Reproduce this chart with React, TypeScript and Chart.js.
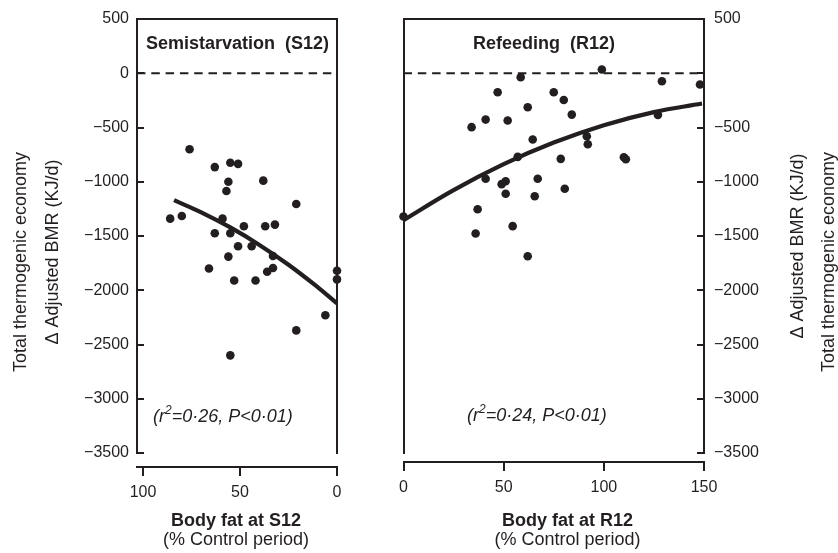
import React, { useEffect, useRef } from 'react';
import { Chart, registerables } from 'chart.js';

Chart.register(...registerables);

// ---- Data: Semistarvation (S12) ----
const S12_FAT = [76, 63, 55, 51, 56, 57, 38, 21, 86, 80, 59, 63, 55, 48, 37, 32, 51, 44, 56, 33, 33, 36, 66, 0, 53, 42, 0, 6, 21, 55];
const S12_BMR = [-700, -865, -825, -835, -1000, -1085, -990, -1205, -1340, -1315, -1340, -1475, -1475, -1410, -1410, -1395, -1595, -1595, -1690, -1685, -1795, -1830, -1800, -1820, -1910, -1910, -1900, -2230, -2370, -2600];
const S12_FIT_FAT = [84, 70, 55, 40, 25, 10, 0];
const S12_FIT_BMR = [-1170, -1282, -1421, -1582, -1765, -1971, -2121];

// ---- Data: Refeeding (R12) ----
const R12_FAT = [0, 34, 41, 47, 52, 58.5, 62, 64.5, 57, 75, 80, 84, 99, 91.5, 92, 78.5, 110, 111, 129, 148, 127, 41, 51, 49, 67, 51, 65.5, 80.5, 37, 36, 54.5, 62];
const R12_BMR = [-1320, -497, -427, -175, -436, -37, -313, -611, -771, -175, -246, -381, 34, -580, -654, -789, -774, -792, -74, -104, -384, -973, -995, -1022, -973, -1111, -1133, -1065, -1253, -1477, -1409, -1686];
const R12_FIT_FAT = [0, 25, 50, 75, 100, 125, 149];
const R12_FIT_BMR = [-1354, -1077, -838, -639, -479, -358, -279];

// ---- Axes ----
const Y_TICKS = [500, 0, -500, -1000, -1500, -2000, -2500, -3000, -3500];
const Y_MIN = -3500;
const Y_MAX = 500;
const X_TICKS_S12 = [100, 50, 0];
const X_TICKS_R12 = [0, 50, 100, 150];
const X_MAX_S12 = 103.1;
const X_MAX_R12 = 150;
const REFERENCE_BMR = 0;

const INK = '#231f20';
const FONT = "'Liberation Sans', Arial, Helvetica, sans-serif";

const fmtY = (v: number) => (v < 0 ? '\u2212' + Math.abs(v) : String(v));

type Seg = { text: string; font: string; dy?: number };
type TextItem = { text: string | Seg[]; x: number; y: number; font?: string; align?: CanvasTextAlign; rotate?: number };

function makeTextPlugin(items: TextItem[]) {
  return {
    id: 'panelText',
    afterDraw(chart: any) {
      const ctx: CanvasRenderingContext2D = chart.ctx;
      for (const t of items) {
        ctx.save();
        ctx.translate(t.x, t.y);
        if (t.rotate) ctx.rotate(t.rotate);
        ctx.fillStyle = INK;
        ctx.textBaseline = 'middle';
        if (typeof t.text === 'string') {
          ctx.font = t.font || `18px ${FONT}`;
          ctx.textAlign = t.align || 'left';
          ctx.fillText(t.text, 0, 0);
        } else {
          ctx.textAlign = 'left';
          let x = 0;
          for (const s of t.text) {
            ctx.font = s.font;
            ctx.fillText(s.text, x, s.dy || 0);
            x += ctx.measureText(s.text).width;
          }
        }
        ctx.restore();
      }
    },
  };
}

const stat = (r: string): Seg[] => [
  { text: '(r', font: `italic 18px ${FONT}` },
  { text: '2', font: `italic 12px ${FONT}`, dy: -6 },
  { text: `=${r}, P<0\u00b701)`, font: `italic 18px ${FONT}` },
];

function pts(xs: number[], ys: number[]) {
  return xs.map((x, i) => ({ x, y: ys[i] }));
}

function datasets(fx: number[], fy: number[], px: number[], py: number[], xLeft: number, xRight: number) {
  return [
    {
      type: 'scatter' as const,
      data: pts(fx, fy),
      showLine: true,
      borderColor: INK,
      borderWidth: 4.2,
      pointRadius: 0,
      tension: 0.4,
      clip: false as any,
      xAxisID: 'x',
      yAxisID: 'y',
    },
    {
      type: 'scatter' as const,
      data: pts(px, py),
      backgroundColor: INK,
      borderWidth: 0,
      pointRadius: 4.3,
      clip: false as any,
      xAxisID: 'x',
      yAxisID: 'y',
    },
    {
      type: 'scatter' as const,
      data: [
        { x: xLeft, y: REFERENCE_BMR },
        { x: xRight, y: REFERENCE_BMR },
      ],
      showLine: true,
      borderColor: INK,
      borderWidth: 2,
      borderDash: [8.5, 5.8],
      pointRadius: 0,
      xAxisID: 'x',
      yAxisID: 'y',
    },
  ];
}

const tickFont = { family: FONT, size: 16 };

const noPad = (s: any) => {
  s.paddingTop = 0;
  s.paddingBottom = 0;
  s.paddingLeft = 0;
  s.paddingRight = 0;
};

function frameAxis(axis: 'x' | 'y', position: string, extra: any = {}) {
  return {
    type: 'linear',
    axis,
    position,
    grid: { display: false, drawTicks: false },
    ticks: { display: false },
    border: { display: true, width: 2, color: INK },
    afterFit: (s: any) => {
      if (axis === 'x') s.height = 0;
      else s.width = 0;
      noPad(s);
    },
    ...extra,
  };
}

export default function App() {
  const leftRef = useRef<HTMLCanvasElement>(null);
  const rightRef = useRef<HTMLCanvasElement>(null);

  useEffect(() => {
    const left = new Chart(leftRef.current!, {
      type: 'scatter',
      data: { datasets: datasets(S12_FIT_FAT, S12_FIT_BMR, S12_FAT, S12_BMR, X_MAX_S12, 0) as any },
      options: {
        animation: false,
        responsive: false,
        maintainAspectRatio: false,
        layout: { padding: { left: 0, right: 33, top: 19, bottom: 100 } },
        plugins: { legend: { display: false }, tooltip: { enabled: false }, title: { display: false } },
        scales: {
          x: {
            type: 'linear',
            axis: 'x',
            reverse: true,
            min: 0,
            max: X_MAX_S12,
            position: { y: -3625 },
            afterBuildTicks: (s: any) => {
              s.ticks = X_TICKS_S12.map((v) => ({ value: v }));
            },
            afterFit: noPad,
            grid: { display: true, drawOnChartArea: false, drawTicks: true, tickLength: 8, lineWidth: 2, color: INK },
            border: { display: true, width: 2, color: INK },
            ticks: { font: tickFont, color: INK, padding: 8, maxRotation: 0, autoSkip: false, callback: (v: any) => String(v) },
          },
          xTop: frameAxis('x', 'top', { min: 0, max: X_MAX_S12, reverse: true }),
          y: {
            type: 'linear',
            axis: 'y',
            position: 'left',
            min: Y_MIN,
            max: Y_MAX,
            afterBuildTicks: (s: any) => {
              s.ticks = Y_TICKS.map((v) => ({ value: v }));
            },
            grid: { display: true, drawOnChartArea: false, drawTicks: true, tickLength: -7, lineWidth: 2, color: INK },
            border: { display: true, width: 2, color: INK },
            ticks: { font: tickFont, color: INK, padding: 15, autoSkip: false, callback: (v: any) => fmtY(Number(v)) },
            afterFit: (s: any) => {
              s.width = 137;
              noPad(s);
            },
          },
          yFrame: frameAxis('y', 'right', { min: Y_MIN, max: Y_MAX }),
        } as any,
      },
      plugins: [
        makeTextPlugin([
          { text: 'Semistarvation  (S12)', x: 146, y: 44, font: `bold 18px ${FONT}` },
          { text: stat('0\u00b726'), x: 153, y: 417 },
          { text: 'Body fat at S12', x: 236, y: 521, font: `bold 18px ${FONT}`, align: 'center' },
          { text: '(% Control period)', x: 236, y: 540, font: `18px ${FONT}`, align: 'center' },
          { text: 'Total thermogenic economy', x: 21, y: 262, font: `18px ${FONT}`, align: 'center', rotate: -Math.PI / 2 },
          { text: '\u0394 Adjusted BMR (KJ/d)', x: 53, y: 252, font: `18px ${FONT}`, align: 'center', rotate: -Math.PI / 2 },
        ]),
      ],
    });

    const right = new Chart(rightRef.current!, {
      type: 'scatter',
      data: { datasets: datasets(R12_FIT_FAT, R12_FIT_BMR, R12_FAT, R12_BMR, 0, X_MAX_R12) as any },
      options: {
        animation: false,
        responsive: false,
        maintainAspectRatio: false,
        layout: { padding: { left: 33.5, right: 0, top: 19, bottom: 100 } },
        plugins: { legend: { display: false }, tooltip: { enabled: false }, title: { display: false } },
        scales: {
          x: {
            type: 'linear',
            axis: 'x',
            min: 0,
            max: X_MAX_R12,
            position: { y: -3580 },
            afterBuildTicks: (s: any) => {
              s.ticks = X_TICKS_R12.map((v) => ({ value: v }));
            },
            afterFit: noPad,
            grid: { display: true, drawOnChartArea: false, drawTicks: true, tickLength: 8, lineWidth: 2, color: INK },
            border: { display: true, width: 2, color: INK },
            ticks: { font: tickFont, color: INK, padding: 8, maxRotation: 0, autoSkip: false, callback: (v: any) => String(v) },
          },
          xTop: frameAxis('x', 'top', { min: 0, max: X_MAX_R12 }),
          yFrame: frameAxis('y', 'left', { min: Y_MIN, max: Y_MAX }),
          y: {
            type: 'linear',
            axis: 'y',
            position: 'right',
            min: Y_MIN,
            max: Y_MAX,
            afterBuildTicks: (s: any) => {
              s.ticks = Y_TICKS.map((v) => ({ value: v }));
            },
            grid: { display: true, drawOnChartArea: false, drawTicks: true, tickLength: -7, lineWidth: 2, color: INK },
            border: { display: true, width: 2, color: INK },
            ticks: {
              font: tickFont,
              color: INK,
              padding: 17,
              autoSkip: false,
              callback: (v: any) => (Number(v) === 0 ? '' : fmtY(Number(v))),
            },
            afterFit: (s: any) => {
              s.width = 134;
              noPad(s);
            },
          },
        } as any,
      },
      plugins: [
        makeTextPlugin([
          { text: 'Refeeding  (R12)', x: 174, y: 44, font: `bold 18px ${FONT}`, align: 'center' },
          { text: stat('0\u00b724'), x: 97, y: 416 },
          { text: 'Body fat at R12', x: 197.5, y: 521, font: `bold 18px ${FONT}`, align: 'center' },
          { text: '(% Control period)', x: 197.5, y: 540, font: `18px ${FONT}`, align: 'center' },
          { text: '\u0394 Adjusted BMR (KJ/d)', x: 428, y: 246, font: `18px ${FONT}`, align: 'center', rotate: -Math.PI / 2 },
          { text: 'Total thermogenic economy', x: 459, y: 262, font: `18px ${FONT}`, align: 'center', rotate: -Math.PI / 2 },
        ]),
      ],
    });

    return () => {
      left.destroy();
      right.destroy();
    };
  }, []);

  return (
    <div style={{ position: 'absolute', left: 0, top: 0, width: 838, height: 553, background: '#fff', overflow: 'hidden' }}>
      <canvas ref={leftRef} width={370} height={553} style={{ position: 'absolute', left: 0, top: 0, width: 370, height: 553 }} />
      <canvas ref={rightRef} width={468} height={553} style={{ position: 'absolute', left: 370, top: 0, width: 468, height: 553 }} />
    </div>
  );
}
